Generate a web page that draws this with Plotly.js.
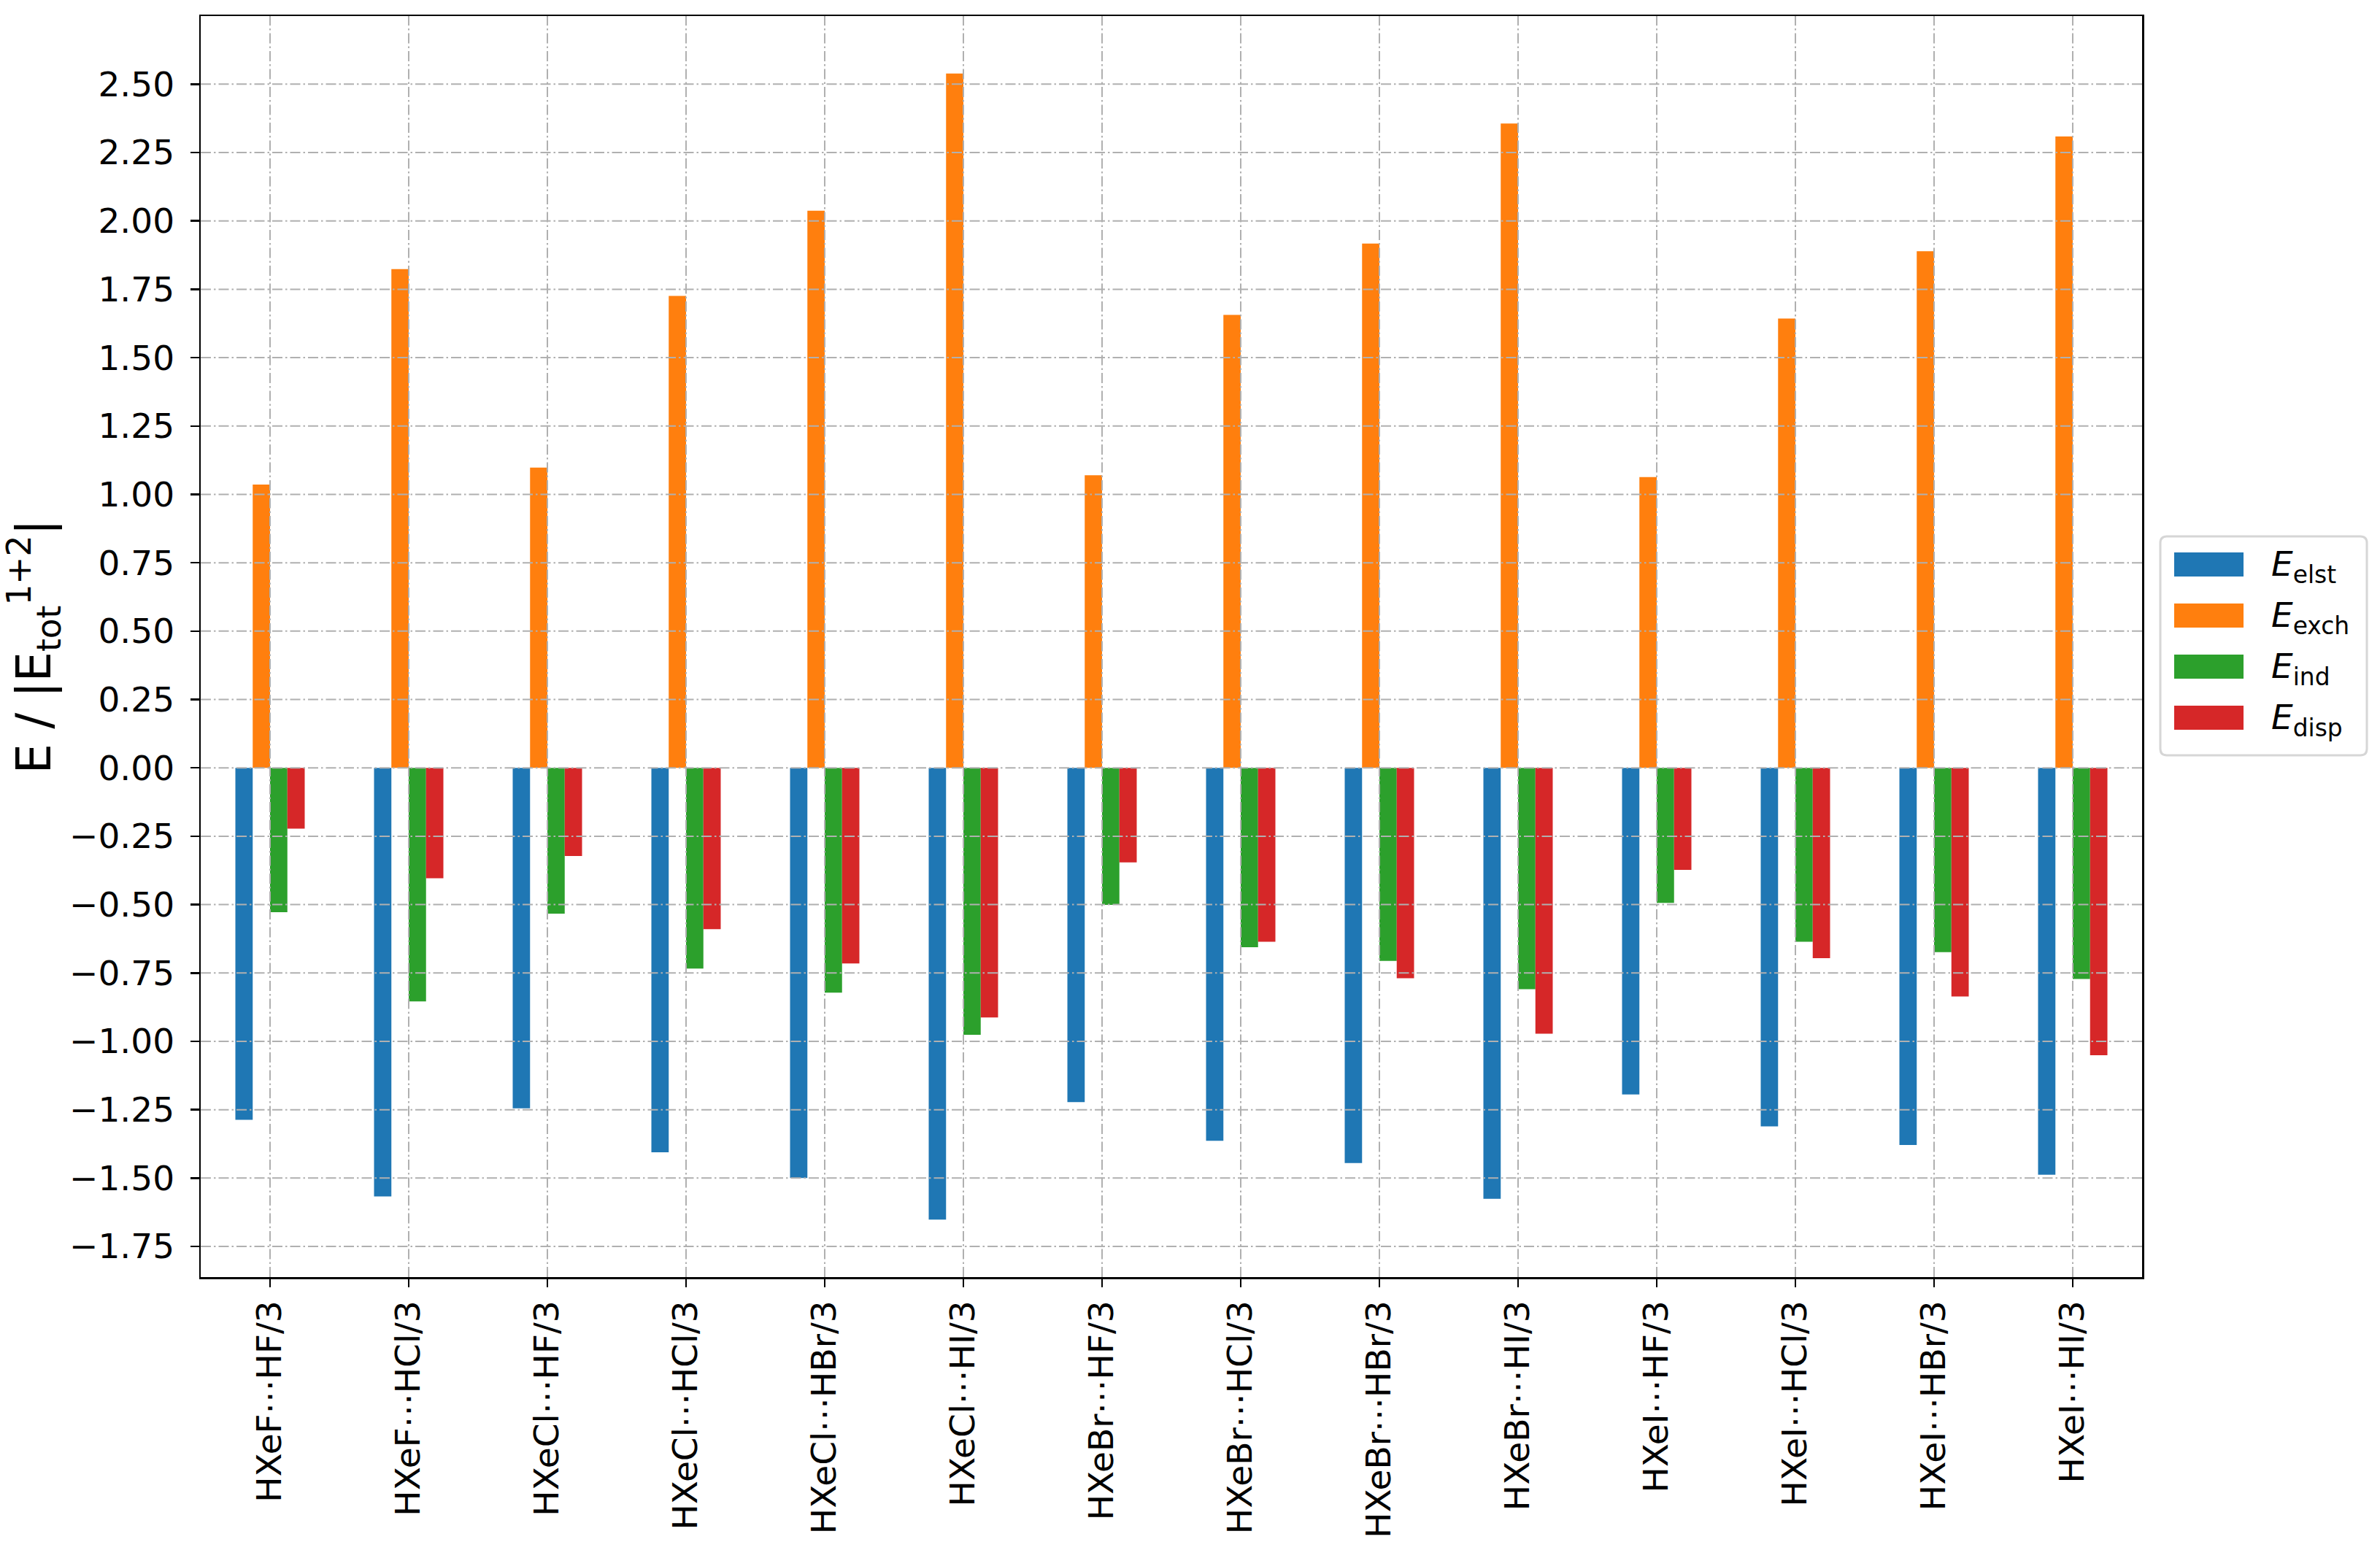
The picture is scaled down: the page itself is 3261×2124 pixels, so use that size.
<!DOCTYPE html>
<html>
<head>
<meta charset="utf-8">
<script src="https://cdn.plot.ly/plotly-3.0.1.min.js"></script>
<style>
  html, body { margin: 0; padding: 0; background: #ffffff; }
  #chart { width: 3261px; height: 2124px; }
</style>
</head>
<body>
<div id="chart"></div>
<script>
// ---------------- data ----------------
const categories = [
  "HXeF⋯HF/3", "HXeF⋯HCl/3", "HXeCl⋯HF/3", "HXeCl⋯HCl/3", "HXeCl⋯HBr/3",
  "HXeCl⋯HI/3", "HXeBr⋯HF/3", "HXeBr⋯HCl/3", "HXeBr⋯HBr/3", "HXeBr⋯HI/3",
  "HXeI⋯HF/3", "HXeI⋯HCl/3", "HXeI⋯HBr/3", "HXeI⋯HI/3"
];
const eElst = [-1.287, -1.567, -1.245, -1.406, -1.500, -1.652, -1.222, -1.364, -1.445, -1.576, -1.194, -1.311, -1.379, -1.488];
const eExch = [1.036, 1.824, 1.098, 1.726, 2.037, 2.539, 1.070, 1.656, 1.917, 2.356, 1.063, 1.643, 1.889, 2.309];
const eInd  = [-0.528, -0.854, -0.533, -0.734, -0.822, -0.976, -0.501, -0.656, -0.706, -0.809, -0.494, -0.636, -0.674, -0.772];
const eDisp = [-0.222, -0.404, -0.322, -0.590, -0.715, -0.913, -0.346, -0.636, -0.769, -0.972, -0.373, -0.696, -0.836, -1.051];

const seriesNames = ["E_elst", "E_exch", "E_ind", "E_disp"];
const legendLabels = [
  "<i>E</i><sub>elst</sub>",
  "<i>E</i><sub>exch</sub>",
  "<i>E</i><sub>ind</sub>",
  "<i>E</i><sub>disp</sub>"
];
const yTickVals = [-1.75, -1.5, -1.25, -1.0, -0.75, -0.5, -0.25, 0.0, 0.25, 0.5, 0.75, 1.0, 1.25, 1.5, 1.75, 2.0, 2.25, 2.5];
const yTickText = ["−1.75", "−1.50", "−1.25", "−1.00", "−0.75", "−0.50", "−0.25", "0.00", "0.25", "0.50", "0.75", "1.00", "1.25", "1.50", "1.75", "2.00", "2.25", "2.50"];

// ---------------- style ----------------
const colors = ["#1f77b4", "#ff7f0e", "#2ca02c", "#d62728"];
const FONT = "DejaVu Sans, Liberation Sans, sans-serif";
const W = 3261, H = 2124;
const M = { l: 275, r: 326, t: 22, b: 374 };
const PW = W - M.l - M.r, PH = H - M.t - M.b;
const px2x = px => (px - M.l) / PW;
const px2y = py => (H - M.b - py) / PH;

const seriesValues = [eElst, eExch, eInd, eDisp];
const traces = seriesValues.map((vals, i) => ({
  type: "bar",
  name: seriesNames[i],
  x: categories,
  y: vals,
  marker: { color: colors[i], line: { width: 0 } },
  showlegend: false,
  hoverinfo: "skip"
}));

// grid lines drawn above bars (as in the reference)
const gridStyle = { color: "#b0b0b0", width: 2, dash: "14px,4px,2.5px,4px" };
const shapes = [];
yTickVals.forEach(v => shapes.push({
  type: "line", xref: "paper", yref: "y", x0: 0, x1: 1, y0: v, y1: v,
  line: gridStyle, layer: "above"
}));
categories.forEach((c, i) => shapes.push({
  type: "line", xref: "x", yref: "paper", x0: i, x1: i, y0: 0, y1: 1,
  line: gridStyle, layer: "above"
}));

// custom legend box (rounded) + swatches
const box = { x0: 2960, x1: 3243, y0: 735, y1: 1035, r: 9 };
const bx0 = px2x(box.x0), bx1 = px2x(box.x1), by0 = px2y(box.y1), by1 = px2y(box.y0);
const rx = box.r / PW, ry = box.r / PH;
const boxPath =
  `M ${bx0 + rx},${by0} L ${bx1 - rx},${by0} Q ${bx1},${by0} ${bx1},${by0 + ry} ` +
  `L ${bx1},${by1 - ry} Q ${bx1},${by1} ${bx1 - rx},${by1} ` +
  `L ${bx0 + rx},${by1} Q ${bx0},${by1} ${bx0},${by1 - ry} ` +
  `L ${bx0},${by0 + ry} Q ${bx0},${by0} ${bx0 + rx},${by0} Z`;
shapes.push({
  type: "path", xref: "paper", yref: "paper", path: boxPath,
  line: { color: "#d6d6d6", width: 3 }, fillcolor: "rgba(255,255,255,0.8)", layer: "above"
});
const annotations = [];
const entryTop = [757, 827, 897, 967];
entryTop.forEach((top, i) => {
  shapes.push({
    type: "rect", xref: "paper", yref: "paper",
    x0: px2x(2979), x1: px2x(3074), y0: px2y(top + 33), y1: px2y(top),
    fillcolor: colors[i], line: { width: 0 }, layer: "above"
  });
  annotations.push({
    xref: "paper", yref: "paper", x: px2x(3110), y: px2y(top + 19),
    xanchor: "left", yanchor: "middle", showarrow: false,
    text: legendLabels[i],
    font: { family: FONT, size: 47, color: "#000000" }
  });
});

const layout = {
  width: W, height: H,
  margin: { l: M.l, r: M.r, t: M.t, b: M.b, pad: 0 },
  paper_bgcolor: "#ffffff",
  plot_bgcolor: "#ffffff",
  barmode: "group",
  bargap: 0.5,
  bargroupgap: 0,
  showlegend: false,
  font: { family: FONT, color: "#000000" },
  xaxis: {
    type: "category",
    range: [-0.5, 13.5],
    showgrid: false,
    zeroline: false,
    showline: true, linecolor: "#000000", linewidth: 2.5, mirror: true,
    ticks: "outside", ticklen: 11, tickwidth: 2.5, tickcolor: "#000000",
    tickangle: -90,
    tickfont: { family: FONT, size: 47, color: "#000000" },
    automargin: false
  },
  yaxis: {
    range: [-1.862, 2.749],
    tickmode: "array",
    tickvals: yTickVals,
    ticktext: yTickText,
    showgrid: false,
    zeroline: false,
    showline: true, linecolor: "#000000", linewidth: 2.5, mirror: true,
    ticks: "outside", ticklen: 12, tickwidth: 2.5, tickcolor: "#000000",
    tickfont: { family: FONT, size: 47, color: "#000000" },
    ticklabelstandoff: 12,
    automargin: false,
    title: {
      text: "E / |E<sub>tot</sub><sup>1+2</sup>|",
      font: { family: FONT, size: 65, color: "#000000" },
      standoff: 30
    }
  },
  shapes: shapes,
  annotations: annotations
};

Plotly.newPlot("chart", traces, layout, { staticPlot: true, displayModeBar: false });
</script>
</body>
</html>
